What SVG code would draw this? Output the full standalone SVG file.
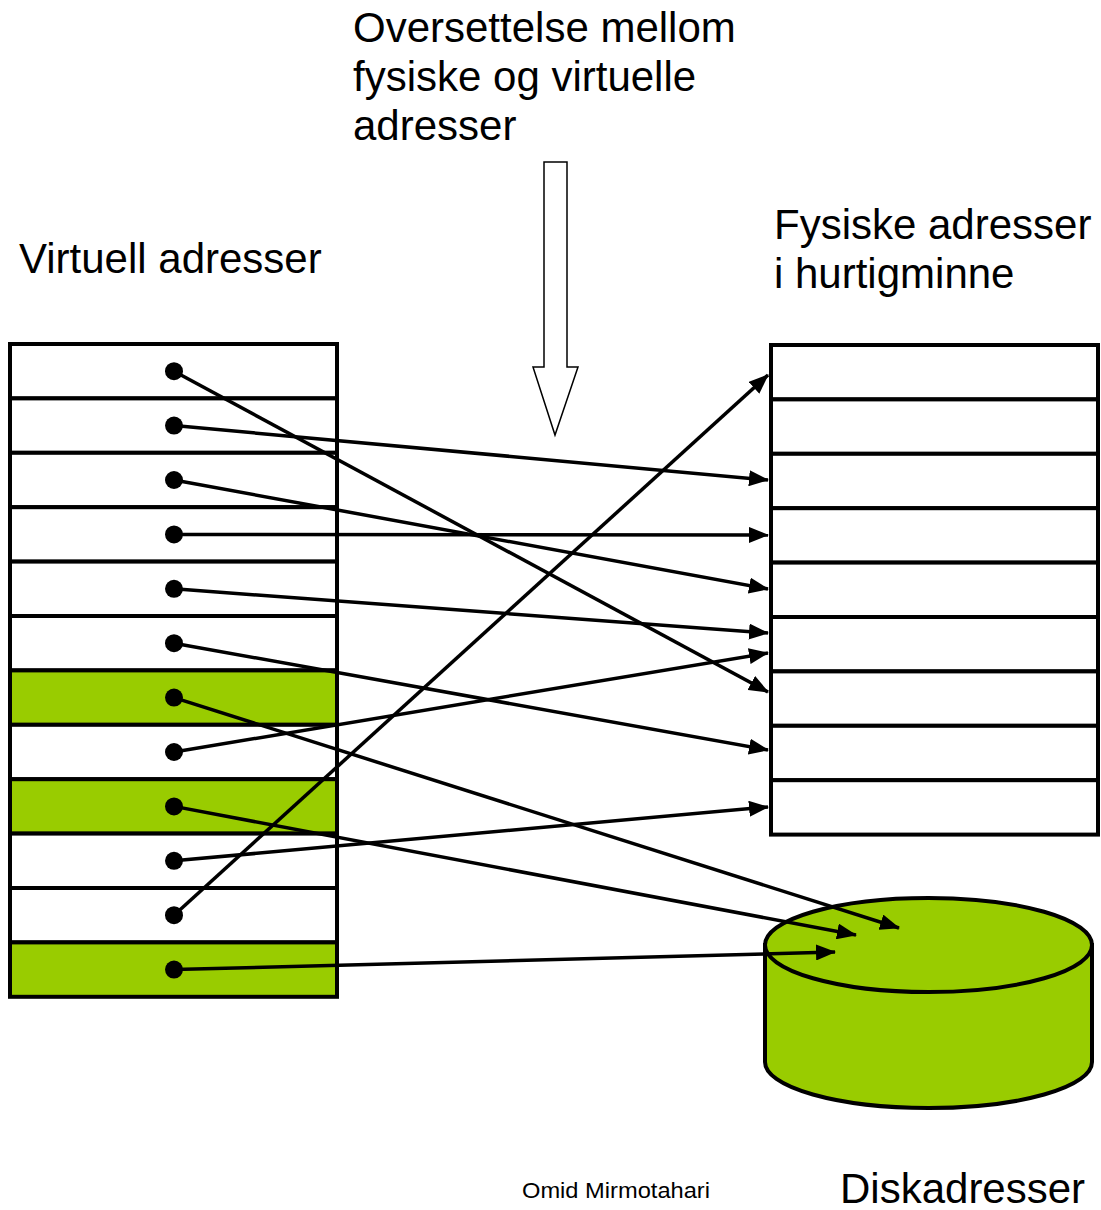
<svg xmlns="http://www.w3.org/2000/svg" width="1101" height="1210" viewBox="0 0 1101 1210">
  <style>
    .label { font-family: "Liberation Sans", Arial, sans-serif; font-size: 42px; fill: #000; }
    .small { font-family: "Liberation Sans", Arial, sans-serif; font-size: 22px; fill: #000; }
    .cell { fill: #fff; stroke: #000; stroke-width: 4; }
    .cell.green { fill: #99cc00; }
    .dot { fill: #000; }
    .link { stroke: #000; stroke-width: 3.5; fill: none; marker-end: url(#head); }
  </style>
  <defs>
    <marker id="head" markerUnits="userSpaceOnUse" viewBox="0 0 20 16" markerWidth="20" markerHeight="16" refX="19" refY="8" orient="auto">
      <path d="M0,0 L20,8 L0,16 Z" fill="#000"/>
    </marker>
  </defs>

  <rect width="1101" height="1210" fill="#fff"/>

  <!-- titles -->
  <g id="title-translation">
    <text class="label" x="353" y="42">Oversettelse mellom</text>
    <text class="label" x="353" y="91">fysiske og virtuelle</text>
    <text class="label" x="353" y="140">adresser</text>
  </g>
  <g id="title-virtual">
    <text class="label" x="19" y="273" font-size="41.5">Virtuell adresser</text>
  </g>
  <g id="title-physical">
    <text class="label" x="774" y="239">Fysiske adresser</text>
    <text class="label" x="774" y="288">i hurtigminne</text>
  </g>
  <g id="title-disk">
    <text class="label" x="840" y="1203">Diskadresser</text>
  </g>
  <g id="author">
    <text class="small" x="522" y="1198" textLength="188" lengthAdjust="spacingAndGlyphs">Omid Mirmotahari</text>
  </g>

  <!-- translation arrow -->
  <g id="translation-arrow">
    <polygon points="544,162 567,162 567,367 578,367 555,435 533,367 544,367" fill="#fff" stroke="#000" stroke-width="1.5"/>
  </g>

  <!-- virtual address table -->
  <g id="virtual-table">
    <rect id="v1" class="cell" x="10" y="344" width="327" height="54.4"/>
    <rect id="v2" class="cell" x="10" y="398.4" width="327" height="54.4"/>
    <rect id="v3" class="cell" x="10" y="452.8" width="327" height="54.4"/>
    <rect id="v4" class="cell" x="10" y="507.2" width="327" height="54.4"/>
    <rect id="v5" class="cell" x="10" y="561.6" width="327" height="54.4"/>
    <rect id="v6" class="cell" x="10" y="616" width="327" height="54.4"/>
    <rect id="v7" class="cell green" x="10" y="670.4" width="327" height="54.4"/>
    <rect id="v8" class="cell" x="10" y="724.8" width="327" height="54.4"/>
    <rect id="v9" class="cell green" x="10" y="779.2" width="327" height="54.4"/>
    <rect id="v10" class="cell" x="10" y="833.6" width="327" height="54.4"/>
    <rect id="v11" class="cell" x="10" y="888" width="327" height="54.4"/>
    <rect id="v12" class="cell green" x="10" y="942.4" width="327" height="54.4"/>
  </g>

  <!-- physical address table -->
  <g id="physical-table">
    <rect id="p1" class="cell" x="771" y="345" width="327" height="54.4"/>
    <rect id="p2" class="cell" x="771" y="399.4" width="327" height="54.4"/>
    <rect id="p3" class="cell" x="771" y="453.8" width="327" height="54.4"/>
    <rect id="p4" class="cell" x="771" y="508.2" width="327" height="54.4"/>
    <rect id="p5" class="cell" x="771" y="562.6" width="327" height="54.4"/>
    <rect id="p6" class="cell" x="771" y="617" width="327" height="54.4"/>
    <rect id="p7" class="cell" x="771" y="671.4" width="327" height="54.4"/>
    <rect id="p8" class="cell" x="771" y="725.8" width="327" height="54.4"/>
    <rect id="p9" class="cell" x="771" y="780.2" width="327" height="54.4"/>
  </g>

  <!-- disk -->
  <g id="disk">
    <path d="M765,945 L765,1062 A163.5,46 0 0 0 1092,1062 L1092,945 Z" fill="#99cc00" stroke="#000" stroke-width="4"/>
    <ellipse cx="928.5" cy="945" rx="163.5" ry="47" fill="#99cc00" stroke="#000" stroke-width="4"/>
  </g>

  <!-- mappings -->
  <g id="connectors">
    <line class="link" x1="174" y1="371.2" x2="768" y2="692"/>
    <line class="link" x1="174" y1="425.6" x2="768" y2="480"/>
    <line class="link" x1="174" y1="480" x2="768" y2="589"/>
    <line class="link" x1="174" y1="534.4" x2="768" y2="535"/>
    <line class="link" x1="174" y1="588.8" x2="768" y2="633"/>
    <line class="link" x1="174" y1="643.2" x2="768" y2="750"/>
    <line class="link" x1="174" y1="697.6" x2="899" y2="928"/>
    <line class="link" x1="174" y1="752" x2="768" y2="653"/>
    <line class="link" x1="174" y1="806.4" x2="856" y2="935"/>
    <line class="link" x1="174" y1="860.8" x2="768" y2="807"/>
    <line class="link" x1="174" y1="915.2" x2="768" y2="375"/>
    <line class="link" x1="174" y1="969.6" x2="835" y2="952"/>
  </g>

  <!-- pointer dots -->
  <g id="dots">
    <circle class="dot" cx="174" cy="371.2" r="9"/>
    <circle class="dot" cx="174" cy="425.6" r="9"/>
    <circle class="dot" cx="174" cy="480" r="9"/>
    <circle class="dot" cx="174" cy="534.4" r="9"/>
    <circle class="dot" cx="174" cy="588.8" r="9"/>
    <circle class="dot" cx="174" cy="643.2" r="9"/>
    <circle class="dot" cx="174" cy="697.6" r="9"/>
    <circle class="dot" cx="174" cy="752" r="9"/>
    <circle class="dot" cx="174" cy="806.4" r="9"/>
    <circle class="dot" cx="174" cy="860.8" r="9"/>
    <circle class="dot" cx="174" cy="915.2" r="9"/>
    <circle class="dot" cx="174" cy="969.6" r="9"/>
  </g>
</svg>
